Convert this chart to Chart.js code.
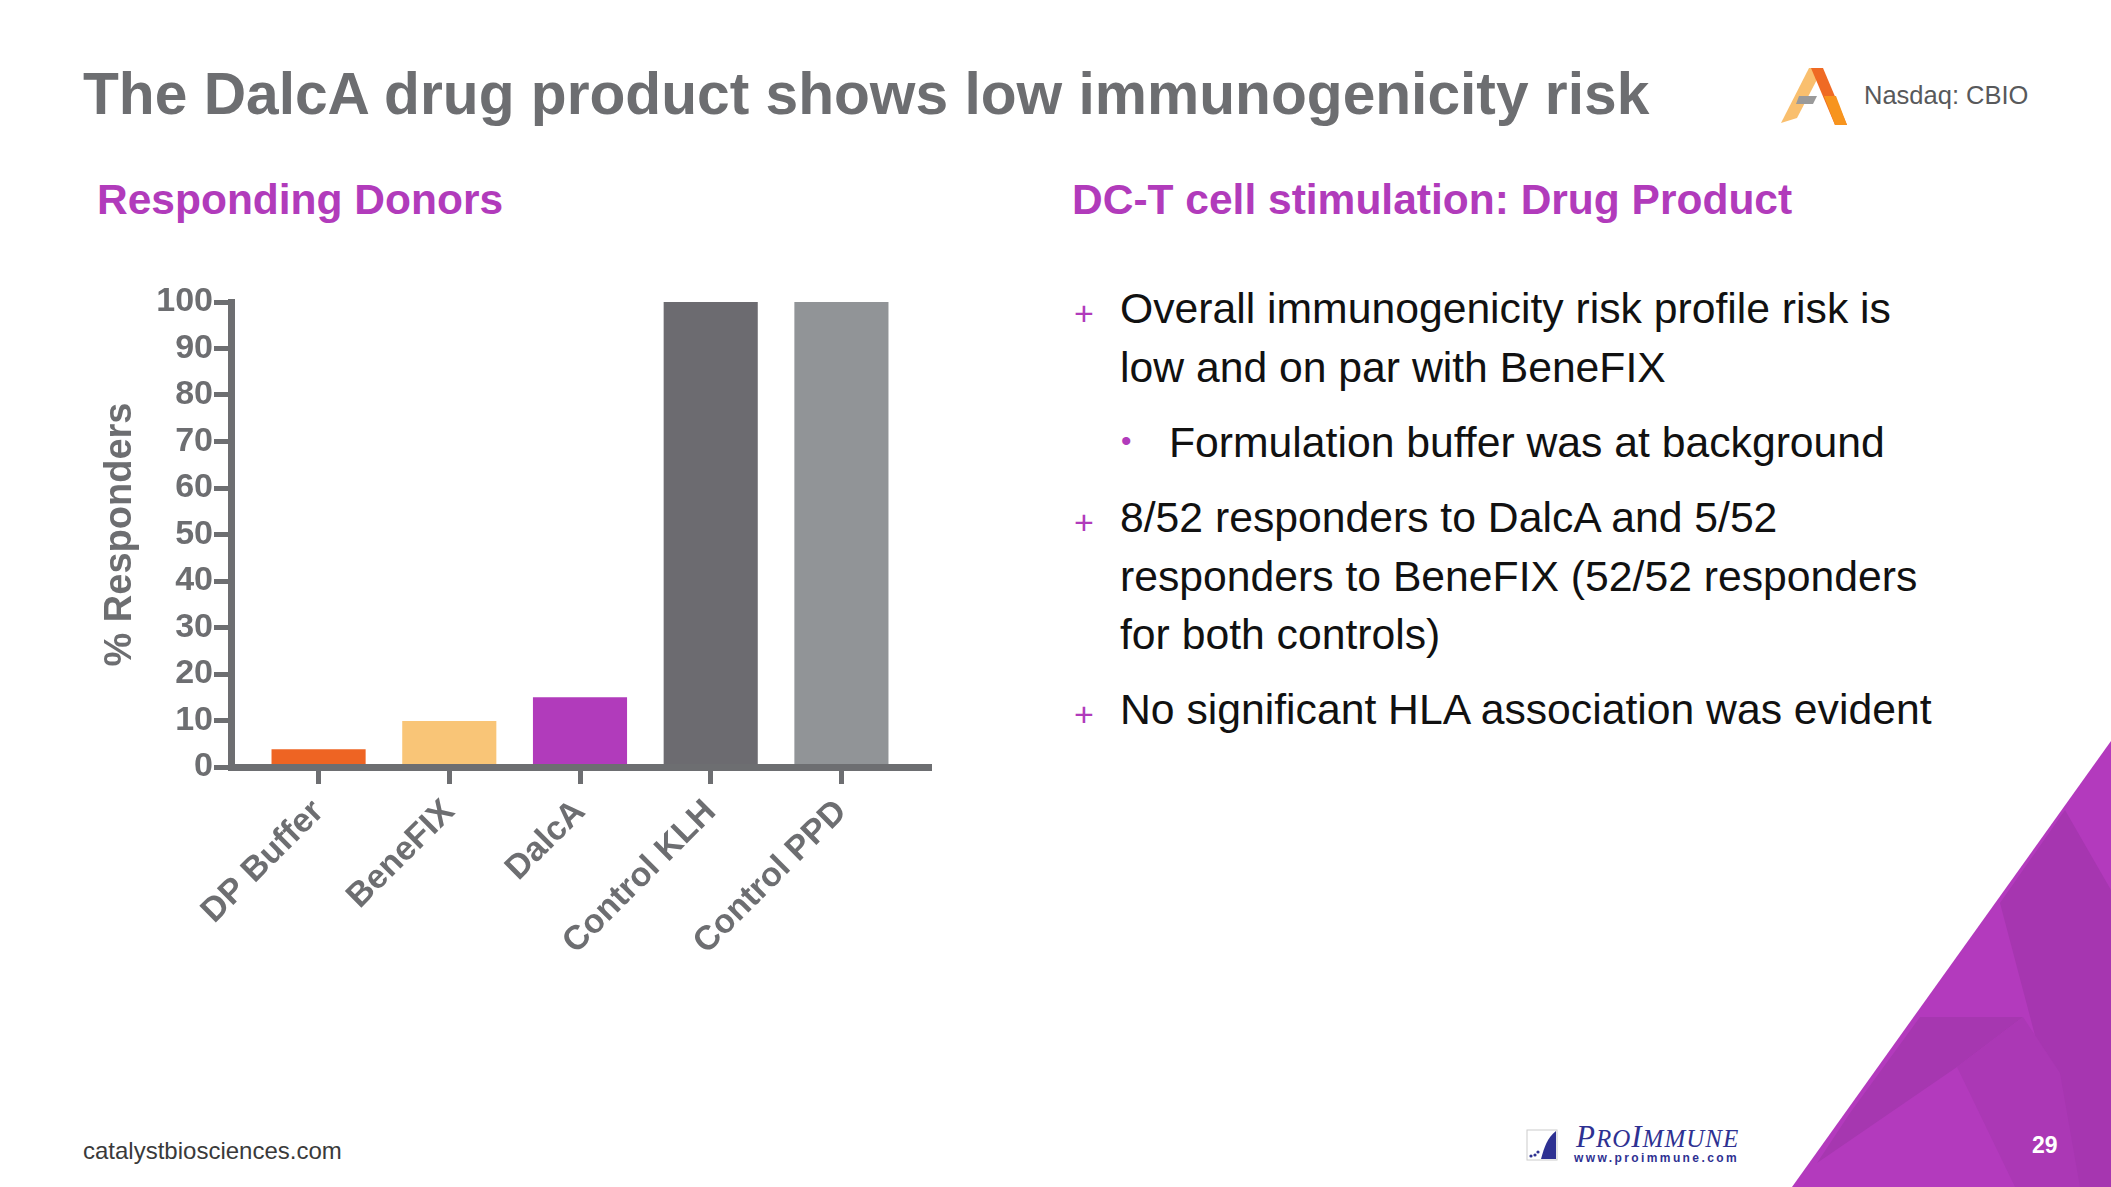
<!DOCTYPE html>
<html>
<head>
<meta charset="utf-8">
<script src="https://cdn.jsdelivr.net/npm/chart.js@4.4.1/dist/chart.umd.min.js"></script>
<style>
  html, body { margin: 0; padding: 0; background: #fff; }
  body { width: 2111px; height: 1187px; position: relative; overflow: hidden; font-family: "Liberation Sans", Arial, sans-serif; }
  .abs { position: absolute; white-space: nowrap; }
  #title { left: 83px; top: 59px; font-size: 58.7px; line-height: 70px; font-weight: bold; color: #6d6e71; }
  .head { top: 175px; font-size: 42.5px; line-height: 50px; font-weight: bold; color: #b13bbb; }
  #nasdaq { left: 1864px; top: 80px; font-size: 25.5px; line-height: 30px; color: #58595b; }
  #footer { left: 83px; top: 1136px; font-size: 24px; line-height: 30px; color: #3a3a3a; }
  #page { left: 2032px; top: 1131px; font-size: 23px; line-height: 28px; font-weight: bold; color: #fff; }
  .para { font-size: 42.7px; line-height: 58.5px; color: #111; }
  .plus { font-size: 34px; line-height: 34px; color: #b13bbb; }
  .dot { font-size: 30px; line-height: 30px; color: #b13bbb; }
  #pi { left: 1576px; top: 1122px; font-family: "Liberation Serif", serif; font-style: italic; font-size: 31px; line-height: 30px; letter-spacing: 1px; color: #2e3192; }
  #pi small { font-size: 25px; }
  #piweb { left: 1574px; top: 1151px; font-size: 12px; line-height: 14px; font-weight: bold; letter-spacing: 2.4px; color: #2e3192; }
  #chartBox { position: absolute; left: 80px; top: 270px; }
</style>
</head>
<body>

<svg class="abs" style="left:0;top:0" width="2111" height="1187">
  <polygon points="1792,1187 2111,741 2111,1187" fill="#b33abd"/>
  <polygon points="2065,810 2111,890 2111,1187 2075,1187 2000,903" fill="#a636b0"/>
  <polygon points="1920,1017 2023,1017 1957,1067 1817,1163 1850,1113" fill="#a637b0"/>
  <polygon points="1957,1067 2023,1017 2060,1073 2080,1187 2015,1187" fill="#ab38b5"/>
  <!-- logo -->
  <polygon points="1781,123 1809,68 1823,68 1797,118" fill="#f9bf6e"/>
  <polygon points="1799,96 1817,96 1813,104 1796,104" fill="#9a9a9a"/>
  <polygon points="1811,68 1823,68 1847,125 1835,125" fill="#ef6a24"/>
  <polygon points="1824,96 1836,96 1847,125 1835,125" fill="#f7941d"/>
  <!-- proimmune mark -->
  <rect x="1527" y="1130" width="30" height="30" fill="#fff" stroke="#ccc" stroke-width="1"/>
  <path d="M1541,1159 C1544,1148 1547,1138 1556,1131 L1556,1159 Z" fill="#2e3192"/>
  <circle cx="1531" cy="1156" r="1.6" fill="#2e3192"/>
  <circle cx="1535" cy="1155" r="1.6" fill="#2e3192"/>
  <circle cx="1538" cy="1152" r="1.6" fill="#2e3192"/>
</svg>

<div id="title" class="abs">The DalcA drug product shows low immunogenicity risk</div>
<div id="nasdaq" class="abs">Nasdaq: CBIO</div>
<div class="abs head" style="left:97px">Responding Donors</div>
<div class="abs head" style="left:1072px">DC-T cell stimulation: Drug Product</div>

<div class="abs plus" style="left:1074px;top:296px">+</div>
<div class="abs para" style="left:1120px;top:279px">Overall immunogenicity risk profile risk is<br>low and on par with BeneFIX</div>
<div class="abs dot" style="left:1121px;top:426px">•</div>
<div class="abs para" style="left:1169px;top:413px">Formulation buffer was at background</div>
<div class="abs plus" style="left:1074px;top:505px">+</div>
<div class="abs para" style="left:1120px;top:488px">8/52 responders to DalcA and 5/52<br>responders to BeneFIX (52/52 responders<br>for both controls)</div>
<div class="abs plus" style="left:1074px;top:697px">+</div>
<div class="abs para" style="left:1120px;top:680px">No significant HLA association was evident</div>

<div id="footer" class="abs">catalystbiosciences.com</div>
<div id="pi" class="abs">P<small>RO</small>I<small>MMUNE</small></div>
<div id="piweb" class="abs">www.proimmune.com</div>
<div id="page" class="abs">29</div>

<div id="chartBox"><canvas id="chartDonors" width="880" height="700"></canvas></div>

<script>
const categories = ['DP Buffer', 'BeneFIX', 'DalcA', 'Control KLH', 'Control PPD'];
const responders = [3.8, 9.9, 15.0, 100, 100];
const barColors = ['#ee6423', '#f9c577', '#b13bbb', '#6c6b70', '#919497'];
const yTicks = [0, 10, 20, 30, 40, 50, 60, 70, 80, 90, 100];

const axisGray = '#6d6e71';
const tickFont = { family: 'Liberation Sans', size: 34, weight: 'bold' };

const ctx = document.getElementById('chartDonors').getContext('2d');

new Chart(ctx, {
    type: 'bar',
    data: {
        datasets: [{
            label: '% Responders',
            data: responders.map((v, i) => ({ x: i, y: v })),
            backgroundColor: barColors,
            borderWidth: 0
        }]
    },
    options: {
        responsive: false,
        animation: false,
        layout: { padding: { top: 32, right: 31, left: 0, bottom: 0 } },
        plugins: { legend: { display: false }, tooltip: { enabled: false } },
        scales: {
            x: {
                type: 'linear',
                offset: false,
                min: -0.67,
                max: 4.67,
                afterBuildTicks: axis => { axis.ticks = categories.map((c, i) => ({ value: i })); },
                afterFit: axis => { axis.height = 203; },
                ticks: {
                    autoSkip: false,
                    minRotation: 45,
                    maxRotation: 45,
                    padding: 8,
                    color: axisGray,
                    font: tickFont,
                    callback: v => categories[v]
                },
                grid: { offset: false, drawOnChartArea: false, color: axisGray, lineWidth: 5, tickLength: 17 },
                border: { display: true, color: axisGray, width: 7, z: 1 }
            },
            y: {
                min: 0,
                max: 100,
                afterBuildTicks: axis => { axis.ticks = yTicks.map(v => ({ value: v })); },
                afterFit: axis => { axis.width = 151; },
                ticks: { padding: 1, color: axisGray, font: tickFont },
                grid: { drawOnChartArea: false, color: axisGray, lineWidth: 5, tickLength: 17 },
                border: { display: true, color: axisGray, width: 7, z: 1 },
                title: {
                    display: true,
                    text: '% Responders',
                    color: axisGray,
                    padding: { top: 18, bottom: 0 },
                    font: { family: 'Liberation Sans', size: 38, weight: 'bold' }
                }
            }
        }
    }
});
</script>
</body>
</html>
